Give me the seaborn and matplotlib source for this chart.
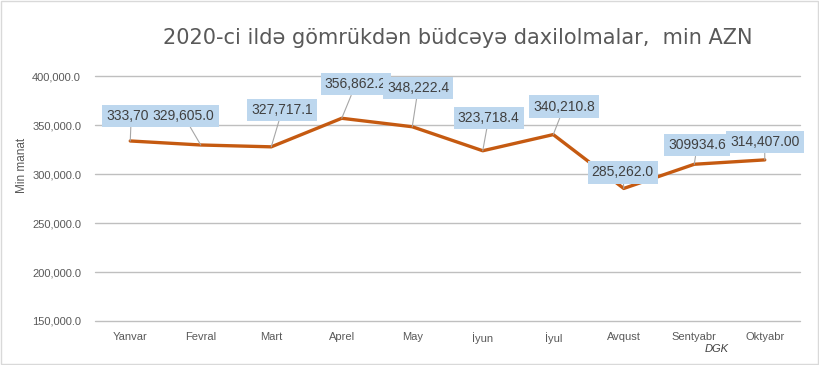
import matplotlib
matplotlib.use("Agg")
import matplotlib.pyplot as plt
import seaborn as sns
import pandas as pd
from matplotlib.patches import Rectangle

months = ['Yanvar', 'Fevral', 'Mart', 'Aprel', 'May', 'İyun', 'İyul', 'Avqust', 'Sentyabr', 'Oktyabr']
values = [333701, 329605.0, 327717.1, 356862.2, 348222.4, 323718.4, 340210.8, 285262.0, 309934.6, 314407.00]
labels = ['333,701', '329,605.0', '327,717.1', '356,862.2', '348,222.4', '323,718.4',
          '340,210.8', '285,262.0', '309934.6', '314,407.00']
# label offsets from the point, in pixels
offsets = [(1, 25), (-17, 29), (11, 37), (14, 34), (6, 39), (6, 33), (11, 28), (-1, 16), (3, 19), (0, 18)]

df = pd.DataFrame({'month': months, 'value': values})

sns.set_style('white')
plt.rcParams['font.family'] = ['Liberation Sans', 'DejaVu Sans']

fig = plt.figure(figsize=(8.2, 3.65), dpi=100)
ax = fig.add_axes([95 / 820, 1 - 321 / 365, 705 / 820, 245 / 365])

sns.lineplot(data=df, x='month', y='value', ax=ax, sort=False, color='#C55A11', linewidth=2.4, zorder=3)

ax.set_ylim(150000, 400000)
ax.set_xlim(-0.5, 9.5)
ax.set_yticks([150000, 200000, 250000, 300000, 350000, 400000])
ax.set_yticklabels([f'{v:,.1f}' for v in ax.get_yticks()])
ax.grid(axis='y', color='#BFBFBF', linewidth=1)
for gl in ax.get_ygridlines():
    gl.set_clip_on(False)
ax.set_axisbelow(True)
for s in ax.spines.values():
    s.set_visible(False)
ax.tick_params(axis='y', length=0, pad=10, labelsize=8, labelcolor='#595959')
ax.tick_params(axis='x', length=0, pad=8, labelsize=8, labelcolor='#595959')
ax.set_xlabel('')
ax.set_ylabel('')

for i, (lab, (dx, dy)) in enumerate(zip(labels, offsets)):
    ax.annotate(lab, xy=(i, values[i]), xytext=(dx, dy), textcoords='offset pixels',
                ha='center', va='center', fontsize=10, color='#404040', zorder=5 + i,
                bbox=dict(boxstyle='square,pad=0.3', fc='#BDD7EE', ec='none'),
                arrowprops=dict(arrowstyle='-', color='#A6A6A6', lw=0.8, shrinkA=0, shrinkB=0))

fig.text(458 / 820, 1 - 38 / 365, '2020-ci ildə gömrükdən büdcəyə daxilolmalar,  min AZN',
         ha='center', va='center', fontsize=15, color='#595959', family=['DejaVu Sans'])
fig.text(22 / 820, 1 - 165 / 365, 'Min manat', ha='center', va='center', rotation=90,
         fontsize=8.5, color='#595959')
fig.text(717 / 820, 1 - 349 / 365, 'DGK', ha='center', va='center', fontsize=8,
         style='italic', color='#404040')

fig.patches.append(Rectangle((0.001, 0.002), 0.997, 0.995, transform=fig.transFigure,
                             fill=False, ec='#D9D9D9', lw=1))

fig.savefig('out.png', dpi=100)
